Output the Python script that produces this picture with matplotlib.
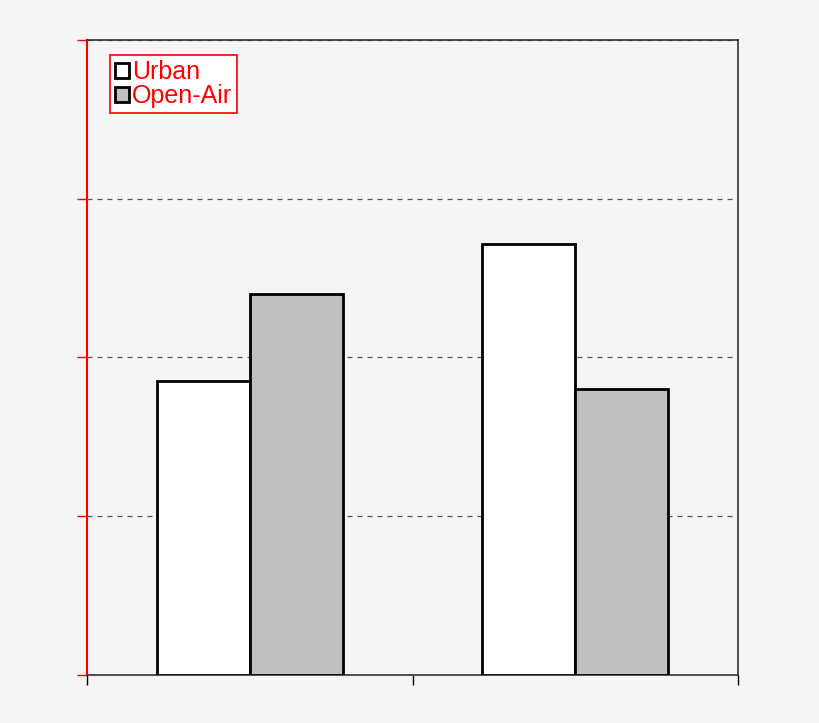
import matplotlib.pyplot as plt
import numpy as np

plt.rcParams['font.family'] = ['Liberation Sans', 'DejaVu Sans']

groups = ['Group 1', 'Group 2']
series = ['Urban', 'Open-Air']
urban = [1.85, 2.715]
open_air = [2.40, 1.80]
colors = ['#ffffff', '#c0c0c0']

bg = '#f5f5f5'
fig = plt.figure(figsize=(8.2, 7.23), dpi=100, facecolor=bg)
ax = fig.add_axes([0.1061, 0.0664, 0.7939, 0.8783], facecolor=bg)

x = np.array([0.5, 1.5])
w = 0.285
ax.bar(x - w / 2, urban, w, color=colors[0], edgecolor='black', linewidth=2, label=series[0], zorder=3)
ax.bar(x + w / 2, open_air, w, color=colors[1], edgecolor='black', linewidth=2, label=series[1], zorder=3)

ax.set_xlim(0, 2)
ax.set_ylim(0, 4)
ax.set_xticks([0, 1, 2])
ax.set_yticks([0, 1, 2, 3, 4])
ax.set_xticklabels([])
ax.set_yticklabels([])
ax.tick_params(axis='x', direction='out', length=7, width=1, color='black')
ax.tick_params(axis='y', direction='out', length=7, width=1, color='red')
ax.yaxis.grid(True, linestyle=(0, (4, 4)), color='#555555', linewidth=0.9)
ax.set_axisbelow(True)

for s in ['top', 'right', 'bottom']:
    ax.spines[s].set_color('#333333')
    ax.spines[s].set_linewidth(1.2)
ax.spines['left'].set_color('red')
ax.spines['left'].set_linewidth(1.5)

leg = ax.legend(loc='upper left', bbox_to_anchor=(0.035, 0.976), borderaxespad=0,
                fontsize=18, frameon=True, fancybox=False, handlelength=0.55,
                handleheight=0.55, handletextpad=0.15, borderpad=0.2,
                labelspacing=0.0, labelcolor='red')
leg.get_frame().set_edgecolor('red')
leg.get_frame().set_facecolor('white')
leg.get_frame().set_alpha(1)
leg.get_frame().set_linewidth(1.2)
for h in leg.legend_handles:
    h.set_linewidth(2)

fig.savefig('out.png', dpi=100, facecolor=bg)
plt.close(fig)
